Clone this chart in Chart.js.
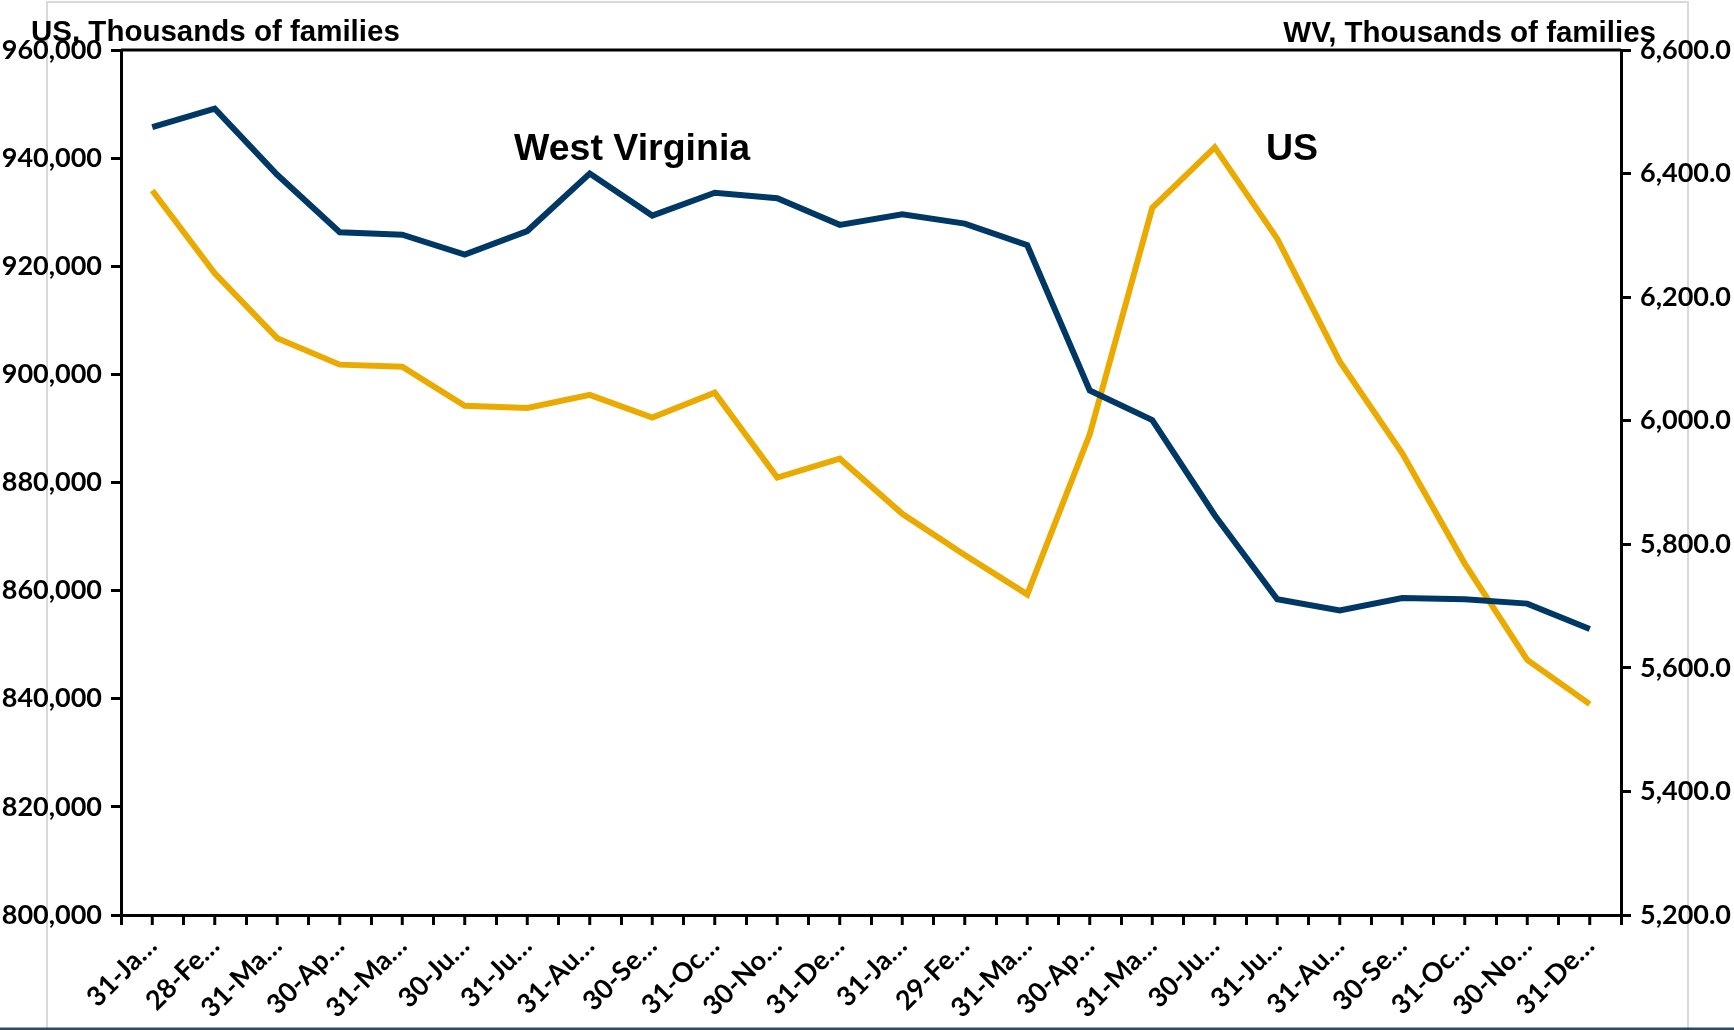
<!DOCTYPE html>
<html>
<head>
<meta charset="utf-8">
<script src="https://cdn.jsdelivr.net/npm/chart.js@4/dist/chart.umd.min.js"></script>
<style>
  html, body { margin: 0; padding: 0; background: #fff; }
  canvas { display: block; }
</style>
</head>
<body>
<canvas id="familiesChart" width="1734" height="1030"></canvas>
<script>
// Month-end dates, Jan 2019 - Dec 2020
const dates = ['31-Jan-19', '28-Feb-19', '31-Mar-19', '30-Apr-19', '31-May-19', '30-Jun-19',
    '31-Jul-19', '31-Aug-19', '30-Sep-19', '31-Oct-19', '30-Nov-19', '31-Dec-19',
    '31-Jan-20', '29-Feb-20', '31-Mar-20', '30-Apr-20', '31-May-20', '30-Jun-20',
    '31-Jul-20', '31-Aug-20', '30-Sep-20', '31-Oct-20', '30-Nov-20', '31-Dec-20'];

// US, thousands of families (left axis)
const usFamilies = [934000, 918700, 906700, 901800, 901400, 894200,
    893800, 896200, 892000, 896600, 880900, 884400,
    874200, 866600, 859300, 888900, 930800, 942000,
    925100, 902400, 885400, 865000, 847200, 839000];

// West Virginia, thousands of families (right axis)
const wvFamilies = [6475, 6505, 6398, 6305, 6301, 6269,
    6307, 6400, 6332, 6369, 6360, 6317,
    6334, 6319, 6284, 6049, 6001, 5847,
    5711, 5693, 5713, 5711, 5704, 5663];

const usAxis = { min: 800000, max: 960000, step: 20000 };
const wvAxis = { min: 5200, max: 6600, step: 200 };

const tickFont = { family: 'Lato', size: 27, weight: 'bold' };

// axis titles, series labels, extra ticks and the frame
const decorations = {
    id: 'decorations',
    beforeDraw(chart) {
        const ctx = chart.ctx;
        ctx.save();
        ctx.strokeStyle = '#d9d9d9';
        ctx.lineWidth = 2;
        ctx.strokeRect(47, 2, 1641, 1040);
        ctx.strokeStyle = '#2e4a6b';
        ctx.lineWidth = 3;
        ctx.beginPath();
        ctx.moveTo(0, 1029);
        ctx.lineTo(1734, 1029);
        ctx.stroke();
        ctx.restore();
    },
    afterDraw(chart) {
        const ctx = chart.ctx;
        const area = chart.chartArea;
        const x = chart.scales.x;
        ctx.save();
        ctx.strokeStyle = '#000';
        ctx.lineWidth = 3;
        ctx.beginPath();
        ctx.moveTo(area.left, area.top);
        ctx.lineTo(area.right, area.top);
        ctx.stroke();
        for (let i = 0; i < dates.length; i++) {
            const px = x.getPixelForValue(i);
            ctx.beginPath();
            ctx.moveTo(px, area.bottom);
            ctx.lineTo(px, area.bottom + 10);
            ctx.stroke();
        }
        ctx.fillStyle = '#000';
        ctx.font = 'bold 29.5px "Liberation Sans", Arial, sans-serif';
        ctx.textBaseline = 'alphabetic';
        ctx.textAlign = 'left';
        ctx.fillText('US, Thousands of families', 31, 41);
        ctx.textAlign = 'right';
        ctx.fillText('WV, Thousands of families', 1656, 42);
        ctx.font = 'bold 37.5px "Liberation Sans", Arial, sans-serif';
        ctx.textAlign = 'left';
        ctx.fillText('West Virginia', 514, 160);
        ctx.fillText('US', 1266, 160);
        ctx.restore();
    }
};

const ctx = document.getElementById('familiesChart').getContext('2d');
new Chart(ctx, {
    type: 'line',
    data: {
        labels: dates,
        datasets: [{
            label: 'West Virginia',
            data: wvFamilies,
            yAxisID: 'yWV',
            borderColor: '#003865',
            borderWidth: 6,
            pointRadius: 0,
            tension: 0
        }, {
            label: 'US',
            data: usFamilies,
            yAxisID: 'yUS',
            borderColor: '#eaaa00',
            borderWidth: 6,
            pointRadius: 0,
            tension: 0
        }]
    },
    options: {
        responsive: false,
        animation: false,
        layout: { padding: { top: 50, left: 0, right: 0, bottom: 0 } },
        plugins: {
            legend: { display: false },
            tooltip: { enabled: false }
        },
        scales: {
            x: {
                offset: true,
                grid: { offset: true, drawOnChartArea: false, color: '#000', tickLength: 10, lineWidth: 3 },
                border: { display: true, color: '#000', width: 3 },
                ticks: {
                    color: '#000',
                    font: tickFont,
                    minRotation: 45,
                    maxRotation: 45,
                    autoSkip: false,
                    padding: 5,
                    callback: function(value) {
                        return dates[value].slice(0, 5) + '\u2026';
                    }
                },
                afterFit: function(scale) { scale.height = 115; }
            },
            yUS: {
                position: 'left',
                min: usAxis.min,
                max: usAxis.max,
                grid: { drawOnChartArea: false, color: '#000', tickLength: 10, lineWidth: 3 },
                border: { display: true, color: '#000', width: 3 },
                ticks: {
                    stepSize: usAxis.step,
                    color: '#000',
                    font: tickFont,
                    padding: 9,
                    callback: function(value) { return value.toLocaleString('en-US'); }
                },
                afterFit: function(scale) { scale.width = 121; }
            },
            yWV: {
                position: 'right',
                min: wvAxis.min,
                max: wvAxis.max,
                grid: { drawOnChartArea: false, color: '#000', tickLength: 10, lineWidth: 3 },
                border: { display: true, color: '#000', width: 3 },
                ticks: {
                    stepSize: wvAxis.step,
                    color: '#000',
                    font: tickFont,
                    padding: 9,
                    callback: function(value) {
                        return value.toLocaleString('en-US', { minimumFractionDigits: 1, maximumFractionDigits: 1 });
                    }
                },
                afterFit: function(scale) { scale.width = 113; }
            }
        }
    },
    plugins: [decorations]
});
</script>
</body>
</html>
